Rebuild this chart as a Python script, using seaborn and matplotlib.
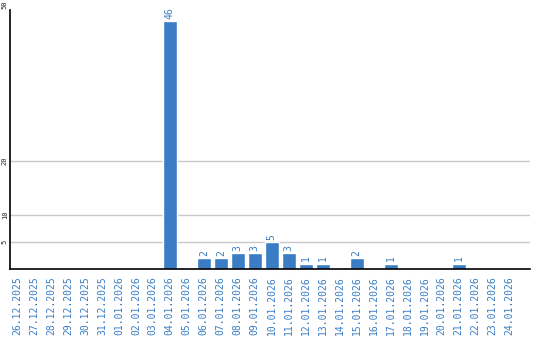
import matplotlib
matplotlib.use("Agg")
import matplotlib.pyplot as plt
import seaborn as sns
import pandas as pd

dates = ["26.12.2025", "27.12.2025", "28.12.2025", "29.12.2025", "30.12.2025",
         "31.12.2025", "01.01.2026", "02.01.2026", "03.01.2026", "04.01.2026",
         "05.01.2026", "06.01.2026", "07.01.2026", "08.01.2026", "09.01.2026",
         "10.01.2026", "11.01.2026", "12.01.2026", "13.01.2026", "14.01.2026",
         "15.01.2026", "16.01.2026", "17.01.2026", "18.01.2026", "19.01.2026",
         "20.01.2026", "21.01.2026", "22.01.2026", "23.01.2026", "24.01.2026"]
counts = [0, 0, 0, 0, 0, 0, 0, 0, 0, 46,
          0, 2, 2, 3, 3, 5, 3, 1, 1, 0,
          2, 0, 1, 0, 0, 0, 1, 0, 0, 0]
y_ticks = [5, 10, 20]
y_top_label = 50

blue = "#3a7dc4"
sns.set_style("white")
plt.rcParams['font.family'] = ['DejaVu Sans Mono', 'DejaVu Sans']

df = pd.DataFrame({"date": dates, "count": counts})
fig = plt.figure(figsize=(5.4, 3.4), dpi=100)
ax = fig.add_axes([10/540, 71/340, 520/540, 259/340])
sns.barplot(data=df, x="date", y="count", color=blue, saturation=1, width=0.82, ax=ax, zorder=3)

ax.set_xlim(-0.41, 30.2)
ax.set_ylim(0, 48)
ax.set_yticks(y_ticks)
ax.set_yticklabels([str(t) for t in y_ticks], rotation=90, fontsize=5, va="center")
ax.tick_params(axis="y", length=0, pad=1.5)
ax.tick_params(axis="x", length=0, pad=5)
ax.set_xticks(range(len(dates)))
ax.set_xticklabels(dates, rotation=90, fontsize=7, color=blue)
ax.grid(axis="y", color="#c8c8c8", linewidth=1, zorder=0)
ax.set_xlabel("")
ax.set_ylabel("")
for s in ["top", "right"]:
    ax.spines[s].set_visible(False)
for s in ["left", "bottom"]:
    ax.spines[s].set_color("black")
    ax.spines[s].set_linewidth(1.2)
    ax.spines[s].set_zorder(4)

fig.text(1.5/540, 1 - 0.5/340, str(y_top_label), rotation=90, fontsize=5,
         ha="left", va="top")

for i, v in enumerate(counts):
    if v > 0:
        ax.text(i, v + 0.4, str(v), rotation=90, ha="center", va="bottom",
                fontsize=7, color=blue)

fig.savefig("out.png", dpi=100)
